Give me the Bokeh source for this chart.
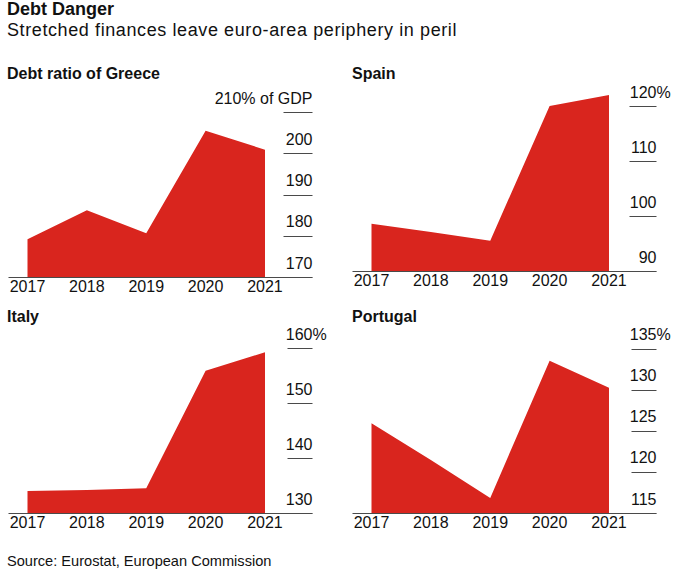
from bokeh.plotting import figure
from bokeh.models import Range1d, FixedTicker, ColumnDataSource, LabelSet, Div
from bokeh.layouts import column, row
from bokeh.core.properties import value
from bokeh.embed import file_html
from bokeh.resources import INLINE

FONT = "Liberation Sans"
RED = "#d9251e"
GREY = "#4a4a4a"
INK = "#111111"

# ---- data ----
years = [2017, 2018, 2019, 2020, 2021]
greece = [179.3, 186.3, 180.7, 205.6, 201.0]
spain = [98.7, 97.2, 95.6, 120.1, 122.1]
italy = [134.1, 134.3, 134.6, 156.0, 159.4]
portugal = [126.0, 121.5, 116.9, 133.6, 130.3]

greece_ticks = [170, 180, 190, 200, 210]
greece_labels = ["170", "180", "190", "200", "210% of GDP"]
spain_ticks = [90, 100, 110, 120]
spain_labels = ["90", "100", "110", "120"]
italy_ticks = [130, 140, 150, 160]
italy_labels = ["130", "140", "150", "160"]
portugal_ticks = [115, 120, 125, 130, 135]
portugal_labels = ["115", "120", "125", "130", "135"]

title = "Debt Danger"
subtitle = "Stretched finances leave euro-area periphery in peril"
panel_titles = ["Debt ratio of Greece", "Spain", "Italy", "Portugal"]
source = "Source: Eurostat, European Commission"

X0 = 2016.68      # left edge of each panel
XE = 2021.80      # end of baseline / tick marks
X1 = 2022.07      # room for the hanging "%"


def tick_labels(p, xs, ys, texts, align):
    src = ColumnDataSource(dict(x=xs, y=ys, text=texts))
    p.add_layout(LabelSet(x="x", y="y", text="text", source=src,
                          text_align=align, text_baseline="alphabetic",
                          y_offset=9, text_font=value(FONT),
                          text_font_size=value("16px"), text_color=INK))


def panel(values, ticks, labels, hang, y_top, width, b_left, b_right, height, b_bottom, tick_len):
    p = figure(width=width, height=height,
               x_range=Range1d(X0, X1), y_range=Range1d(ticks[0], y_top),
               y_axis_location="right", toolbar_location=None,
               output_backend="svg",
               min_border_left=b_left, min_border_right=b_right,
               min_border_top=0, min_border_bottom=b_bottom)
    try:
        p.frame_align = False
    except Exception:
        pass
    p.outline_line_color = None
    p.background_fill_color = "white"
    p.border_fill_color = "white"
    p.grid.visible = False

    p.varea(x=years, y1=ticks[0], y2=values, fill_color=RED, fill_alpha=1.0)

    xa = p.xaxis[0]
    xa.ticker = FixedTicker(ticks=years)
    xa.bounds = (X0, XE)
    xa.axis_line_color = GREY
    xa.axis_line_width = 1
    xa.major_tick_line_color = None
    xa.minor_tick_line_color = None
    xa.major_tick_in = 0
    xa.major_tick_out = 0
    xa.major_label_standoff = 2
    xa.major_label_text_font = FONT
    xa.major_label_text_font_size = "16px"
    xa.major_label_text_color = INK

    ya = p.yaxis[0]
    ya.fixed_location = XE
    ya.ticker = FixedTicker(ticks=ticks)
    ya.axis_line_color = None
    ya.major_tick_in = tick_len
    ya.major_tick_out = 0
    ya.major_tick_line_color = GREY
    ya.major_tick_line_width = 1
    ya.minor_tick_line_color = None
    ya.major_label_overrides = {t: "" for t in ticks}
    ya.major_label_standoff = 0

    tick_labels(p, [XE] * len(ticks), ticks, labels, "right")
    if hang:
        tick_labels(p, [XE], [ticks[-1]], [hang], "left")
    return p


p_gr = panel(greece, greece_ticks, greece_labels, None, 216.55, 352, 8, 24, 222, 30, 29)
p_es = panel(spain, spain_ticks, spain_labels, "%", 123.82, 327, 0, 7, 222, 36, 27)
p_it = panel(italy, italy_ticks, italy_labels, "%", 163.9, 352, 8, 24, 216, 30, 25)
p_pt = panel(portugal, portugal_ticks, portugal_labels, "%", 137.64, 327, 0, 7, 216, 30, 25)

BASE = f"font-family:'{FONT}',Arial,sans-serif;color:{INK};white-space:nowrap;position:absolute;"


def txt(s, left, top, size, bold=False, spacing=0):
    w = "bold" if bold else "normal"
    return (f"<div style=\"{BASE}left:{left}px;top:{top}px;font-size:{size}px;"
            f"line-height:{size}px;font-weight:{w};letter-spacing:{spacing}px\">{s}</div>")


header = Div(width=679, height=85, margin=0, text=(
    "<div style='position:relative;width:679px;height:85px'>"
    + txt(title, 7, 0, 18, True)
    + txt(subtitle, 7, 20.5, 18, False, 0.6)
    + txt(panel_titles[0], 7, 66.2, 16, True)
    + txt(panel_titles[1], 352, 66.2, 16, True)
    + "</div>"))

mid = Div(width=679, height=20, margin=0, text=(
    "<div style='position:relative;width:679px;height:20px'>"
    + txt(panel_titles[2], 7, 1.6, 16, True)
    + txt(panel_titles[3], 352, 1.6, 16, True)
    + "</div>"))

footer = Div(width=679, height=35, margin=0, text=(
    "<div style='position:relative;width:679px;height:35px'>"
    + txt(source, 7, 11, 14.6)
    + "</div>"))

layout = column(header, row(p_gr, p_es), mid, row(p_it, p_pt), footer)

open("out.html", "w").write(file_html(layout, INLINE))
